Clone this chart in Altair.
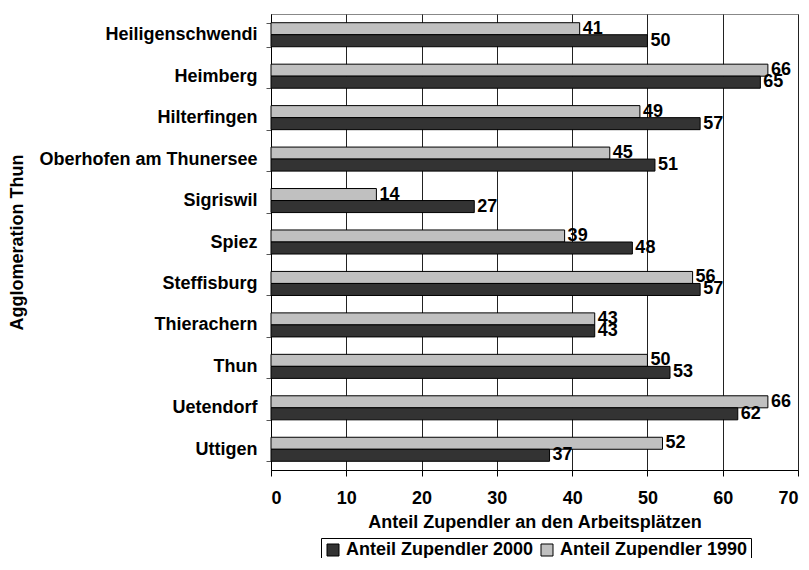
import altair as alt
import pandas as pd

gemeinden = ["Heiligenschwendi", "Heimberg", "Hilterfingen", "Oberhofen am Thunersee",
             "Sigriswil", "Spiez", "Steffisburg", "Thierachern", "Thun", "Uetendorf", "Uttigen"]
werte_1990 = [41, 66, 49, 45, 14, 39, 56, 43, 50, 66, 52]
werte_2000 = [50, 65, 57, 51, 27, 48, 57, 43, 53, 62, 37]
serien = ["Anteil Zupendler 2000", "Anteil Zupendler 1990"]
farben = ["#333333", "#c0c0c0"]
x_ticks = [0, 10, 20, 30, 40, 50, 60, 70]

rows = []
for g, a, b in zip(gemeinden, werte_1990, werte_2000):
    rows.append({"Gemeinde": g, "Serie": serien[1], "Wert": a})
    rows.append({"Gemeinde": g, "Serie": serien[0], "Wert": b})
df = pd.DataFrame(rows)

FONT = "Liberation Sans"
FS = 18

base = alt.Chart(df).encode(
    y=alt.Y("Gemeinde:N", sort=gemeinden,
            scale=alt.Scale(paddingInner=0.42, paddingOuter=0.21),
            axis=alt.Axis(title="Agglomeration Thun", tickBand="extent",
                          labelFont=FONT, labelFontSize=FS, labelFontWeight="bold",
                          labelColor="black", labelPadding=9, tickSize=5, labelLimit=400,
                          tickColor="#555555", domainColor="black",
                          titleFont=FONT, titleFontSize=FS, titleFontWeight="bold",
                          titleColor="black", titleX=-254, titleY=228,
                          titleBaseline="middle", titleAngle=270)),
    yOffset=alt.YOffset("Serie:N",
                        scale=alt.Scale(domain=[serien[1], serien[0]],
                                        paddingInner=0, paddingOuter=0)),
    x=alt.X("Wert:Q", scale=alt.Scale(domain=[0, 70], nice=False),
            axis=alt.Axis(values=x_ticks, title="Anteil Zupendler an den Arbeitsplätzen",
                          labelFont=FONT, labelFontSize=FS, labelFontWeight="bold",
                          labelColor="black", labelPadding=13, tickSize=6,
                          tickColor="black", domainColor="black",
                          grid=True, gridColor="#222222", gridWidth=1,
                          titleFont=FONT, titleFontSize=FS, titleFontWeight="bold",
                          titleColor="black", titleY=52, titleBaseline="middle")),
)

bars = base.mark_bar(stroke="black", strokeWidth=1).encode(
    color=alt.Color("Serie:N", scale=alt.Scale(domain=serien, range=farben),
                    legend=alt.Legend(title=None, orient="none", legendX=50, legendY=524,
                                      direction="horizontal", symbolType="square",
                                      symbolSize=144, symbolStrokeColor="black",
                                      symbolStrokeWidth=1, labelFont=FONT,
                                      labelFontSize=FS, labelFontWeight="bold",
                                      labelColor="black", labelOffset=4, labelLimit=400,
                                      columnPadding=4, padding=3, strokeColor="black"))
)

labels = base.mark_text(align="left", baseline="middle", dx=3, font=FONT, fontSize=FS,
                        fontWeight="bold", color="black").encode(text="Wert:Q")

chart = (bars + labels).properties(
    width=527, height=456,
    padding={"left": 263, "top": 6, "right": 3, "bottom": 88},
    autosize=alt.AutoSizeParams(type="none"),
).configure_view(stroke="#888888", strokeWidth=1)

chart.save("out.html", embed_options={"renderer": "svg", "actions": False})
